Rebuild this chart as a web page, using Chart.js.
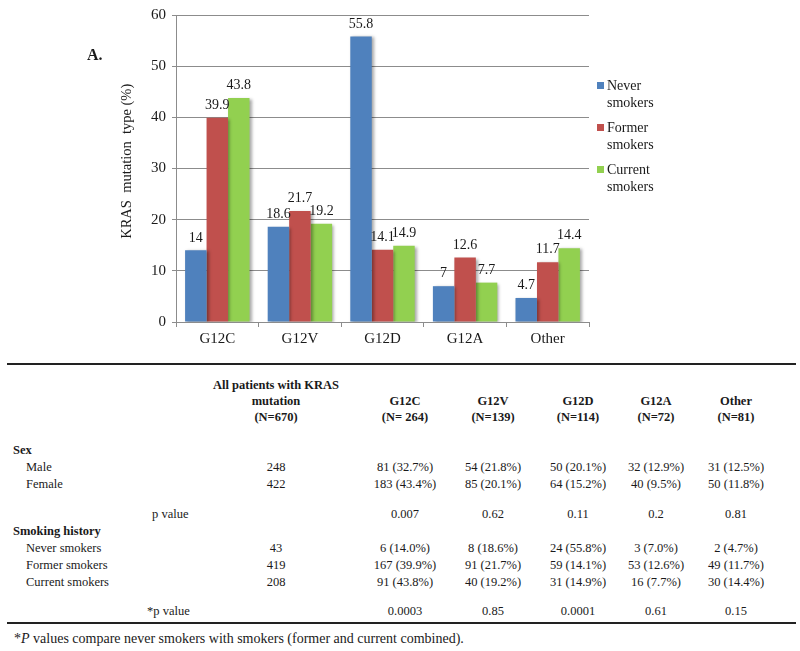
<!DOCTYPE html>
<html><head><meta charset="utf-8">
<script src="https://cdn.jsdelivr.net/npm/chart.js@4"></script>
<style>
body{margin:0;background:#fff;width:800px;height:651px;position:relative;overflow:hidden;font-family:'Liberation Serif','Tinos','Times New Roman','DejaVu Serif',serif;color:#1a1a1a}
#wrap{position:absolute;left:0;top:0;width:800px;height:350px}
.abs{position:absolute;white-space:nowrap;line-height:14px;height:14px}
.c{transform:translateX(-50%)}
.b{font-weight:bold}
.rule{position:absolute;left:7px;width:789px;height:2px;background:#222}
.leg{position:absolute;left:597px;font-size:14px;line-height:17px}
.leg i{position:absolute;left:0;top:5px;width:7px;height:7px}
.leg span{position:absolute;left:10px;top:0;white-space:nowrap}
</style></head>
<body>
<div id="wrap"><canvas id="c" width="800" height="350"></canvas></div>
<div class="abs b" style="left:87px;top:47px;font-size:16px;line-height:16px;height:16px">A.</div>
<div id="legend"></div>
<div id="table"></div>
<script>
// ---- chart data ----
const categories = ['G12C', 'G12V', 'G12D', 'G12A', 'Other'];
const neverSmokers = [14, 18.6, 55.8, 7, 4.7];
const formerSmokers = [39.9, 21.7, 14.1, 12.6, 11.7];
const currentSmokers = [43.8, 19.2, 14.9, 7.7, 14.4];
const seriesNames = [['Never', 'smokers'], ['Former', 'smokers'], ['Current', 'smokers']];
const seriesColors = ['#4F81BD', '#C0504D', '#92D050'];
const yTicks = [0, 10, 20, 30, 40, 50, 60];
const yTitle = 'KRAS  mutation  type (%)';

// ---- table data ----
const allHead = ['All patients with KRAS', 'mutation', '(N=670)'];
const colHeads = ['G12C', 'G12V', 'G12D', 'G12A', 'Other'];
const colN = ['(N= 264)', '(N=139)', '(N=114)', '(N=72)', '(N=81)'];
const maleRow = ['248', '81 (32.7%)', '54 (21.8%)', '50 (20.1%)', '32 (12.9%)', '31 (12.5%)'];
const femaleRow = ['422', '183 (43.4%)', '85 (20.1%)', '64 (15.2%)', '40 (9.5%)', '50 (11.8%)'];
const sexP = ['', '0.007', '0.62', '0.11', '0.2', '0.81'];
const neverRow = ['43', '6 (14.0%)', '8 (18.6%)', '24 (55.8%)', '3 (7.0%)', '2 (4.7%)'];
const formerRow = ['419', '167 (39.9%)', '91 (21.7%)', '59 (14.1%)', '53 (12.6%)', '49 (11.7%)'];
const currentRow = ['208', '91 (43.8%)', '40 (19.2%)', '31 (14.9%)', '16 (7.7%)', '30 (14.4%)'];
const smokingP = ['', '0.0003', '0.85', '0.0001', '0.61', '0.15'];

const FONT = "'Liberation Serif','Tinos','Times New Roman','DejaVu Serif',serif";

// legend
(function(){
  const tops = [77, 119, 161];
  let h = '';
  seriesNames.forEach((n, i) => {
    h += `<div class="leg" style="top:${tops[i]}px"><i style="background:${seriesColors[i]}"></i><span>${n[0]}<br>${n[1]}</span></div>`;
  });
  document.getElementById('legend').innerHTML = h;
})();

// table
(function(){
  const cx = [276, 405, 493, 578, 656, 736];
  let h = '';
  const txt = (x, y, s, cls, size) => {
    h += `<div class="abs ${cls||''}" style="left:${x}px;top:${y-7}px;font-size:${size||12.5}px">${s}</div>`;
  };
  h += '<div class="rule" style="top:363px"></div>';
  h += '<div class="rule" style="top:622px"></div>';
  txt(cx[0], 385, allHead[0], 'c b');
  txt(cx[0], 401, allHead[1], 'c b');
  txt(cx[0], 417, allHead[2], 'c b');
  colHeads.forEach((s, i) => { txt(cx[i+1], 401, s, 'c b'); txt(cx[i+1], 417, colN[i], 'c b'); });
  txt(13, 450, 'Sex', 'b');
  const row = (label, y, arr, lx) => {
    txt(lx, y, label);
    arr.forEach((s, i) => { if (s) txt(cx[i], y, s, 'c'); });
  };
  row('Male', 467, maleRow, 26);
  row('Female', 484, femaleRow, 26);
  row('p value', 514, sexP, 152);
  txt(13, 531, 'Smoking history', 'b');
  row('Never smokers', 548, neverRow, 26);
  row('Former smokers', 565, formerRow, 26);
  row('Current smokers', 582, currentRow, 26);
  row('*p value', 611, smokingP, 147);
  txt(14, 639, '*<i>P</i> values compare never smokers with smokers (former and current combined).', '', 14);
  document.getElementById('table').innerHTML = h;
})();

const barShadow = {
  id: 'barShadow',
  beforeDatasetsDraw(c) { const x = c.ctx; x.save(); x.shadowColor = 'rgba(0,0,0,0.35)'; x.shadowBlur = 3; x.shadowOffsetX = 2; x.shadowOffsetY = 1; },
  afterDatasetsDraw(c) { c.ctx.restore(); }
};
const valueLabels = {
  id: 'valueLabels',
  afterDatasetsDraw(chart) {
    const ctx = chart.ctx;
    ctx.save();
    ctx.font = '14px ' + FONT;
    ctx.fillStyle = '#1a1a1a';
    ctx.textAlign = 'center';
    ctx.textBaseline = 'middle';
    chart.data.datasets.forEach((ds, i) => {
      chart.getDatasetMeta(i).data.forEach((bar, j) => {
        ctx.fillText(String(ds.data[j]), bar.x, bar.y - 12.5);
      });
    });
    ctx.restore();
  }
};

new Chart(document.getElementById('c'), {
  type: 'bar',
  data: {
    labels: categories,
    datasets: [neverSmokers, formerSmokers, currentSmokers].map((d, i) => ({
      label: seriesNames[i].join(' '),
      data: d,
      backgroundColor: seriesColors[i],
      borderWidth: 0,
      categoryPercentage: 0.78,
      barPercentage: 1.0
    }))
  },
  options: {
    responsive: false,
    animation: false,
    layout: { padding: { left: 114, right: 211, top: 9, bottom: 0 } },
    plugins: { legend: { display: false }, tooltip: { enabled: false } },
    scales: {
      x: {
        grid: { display: true, drawOnChartArea: false, offset: true, tickLength: 5, color: '#8c8c8c' },
        border: { color: '#8c8c8c' },
        ticks: { font: { family: FONT, size: 15 }, color: '#1a1a1a', padding: 3 },
        afterFit(s) { s.height = 28; }
      },
      y: {
        min: 0, max: 60,
        afterBuildTicks(s) { s.ticks = yTicks.map(v => ({ value: v })); },
        grid: { color: '#8c8c8c', tickLength: 4 },
        border: { color: '#8c8c8c' },
        ticks: { font: { family: FONT, size: 15 }, color: '#1a1a1a', padding: 6 },
        title: { display: true, text: '    ' + yTitle, font: { family: FONT, size: 14.5 }, color: '#1a1a1a' },
        afterFit(s) { s.width = 62; }
      }
    }
  },
  plugins: [barShadow, valueLabels]
});
</script>
</body></html>
